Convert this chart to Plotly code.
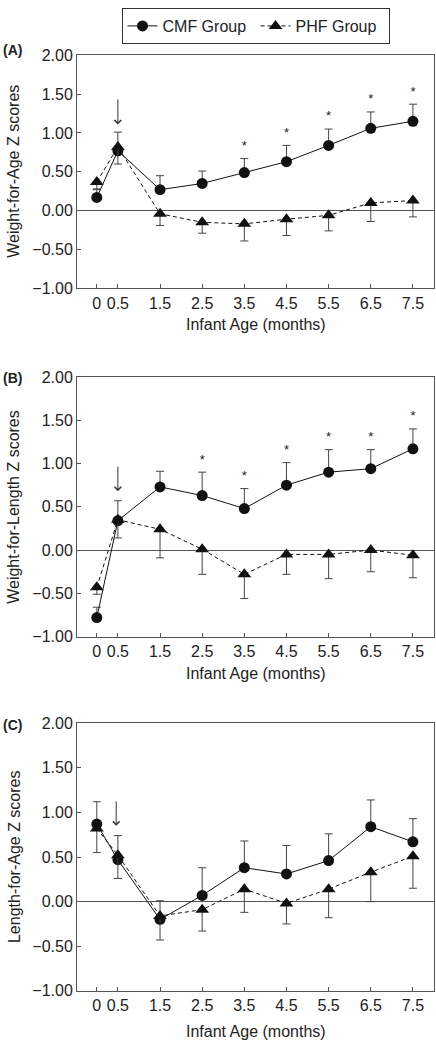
import plotly.graph_objects as go

ages = [0, 0.5, 1.5, 2.5, 3.5, 4.5, 5.5, 6.5, 7.5]
age_labels = ["0", "0.5", "1.5", "2.5", "3.5", "4.5", "5.5", "6.5", "7.5"]

# Panel A: Weight-for-Age
wfa_cmf = [0.17, 0.77, 0.27, 0.35, 0.49, 0.63, 0.84, 1.06, 1.15]
wfa_cmf_se = [0.11, 0.24, 0.18, 0.16, 0.18, 0.21, 0.21, 0.21, 0.22]
wfa_phf = [0.37, 0.82, -0.04, -0.15, -0.17, -0.11, -0.06, 0.10, 0.13]
wfa_phf_se = [0.10, 0.22, 0.15, 0.14, 0.22, 0.21, 0.20, 0.24, 0.21]
wfa_sig = [False, False, False, False, True, True, True, True, True]

# Panel B: Weight-for-Length
wfl_cmf = [-0.78, 0.34, 0.73, 0.63, 0.48, 0.75, 0.90, 0.94, 1.17]
wfl_cmf_se = [0.12, 0.23, 0.18, 0.27, 0.23, 0.26, 0.26, 0.22, 0.23]
wfl_phf = [-0.43, 0.35, 0.24, 0.01, -0.28, -0.05, -0.05, 0.00, -0.06]
wfl_phf_se = [0.08, 0.21, 0.33, 0.29, 0.28, 0.23, 0.28, 0.25, 0.26]
wfl_sig = [False, False, False, True, True, True, True, True, True]

# Panel C: Length-for-Age
lfa_cmf = [0.87, 0.47, -0.20, 0.07, 0.38, 0.31, 0.46, 0.84, 0.67]
lfa_cmf_se = [0.25, 0.27, 0.21, 0.31, 0.30, 0.32, 0.30, 0.30, 0.26]
lfa_phf = [0.82, 0.52, -0.16, -0.09, 0.14, -0.02, 0.14, 0.33, 0.51]
lfa_phf_se = [0.27, 0.26, 0.27, 0.24, 0.26, 0.23, 0.32, 0.33, 0.36]
lfa_sig = [False] * 9

# arrows marking the intervention start (x, top, tip)
arrow_x = [0.5, 0.5, 0.46]
arrow_top = [1.45, 0.98, 1.14]
arrow_tip = [1.11, 0.68, 0.85]

panel_letters = ["(A)", "(B)", "(C)"]
y_titles = ["Weight-for-Age Z scores", "Weight-for-Length Z scores", "Length-for-Age Z scores"]
x_title = "Infant Age (months)"
y_ticks = [-1.0, -0.5, 0.0, 0.5, 1.0, 1.5, 2.0]

panels = [
    (wfa_cmf, wfa_cmf_se, wfa_phf, wfa_phf_se, wfa_sig),
    (wfl_cmf, wfl_cmf_se, wfl_phf, wfl_phf_se, wfl_sig),
    (lfa_cmf, lfa_cmf_se, lfa_phf, lfa_phf_se, lfa_sig),
]

H = 1050.0
# pixel extents of plot areas (top, bottom)
px_dom = [(48, 285), (375, 639), (727, 999)]
letter_y = [43, 376, 729]
xtitle_y = [322, 676, 1040]
STAR_PX = 12  # gap between error cap and asterisk (pixels)

AXC = "#555555"
TXT = "#222222"
FONT = "Liberation Sans, Arial, sans-serif"
FS = 16

fig = go.Figure()
annotations = []
layout = {}

for i, (cmf, cmf_se, phf, phf_se, sig) in enumerate(panels):
    n = "" if i == 0 else str(i + 1)
    xa, ya = "x" + n, "y" + n
    top, bot = px_dom[i]
    units_per_px = 3.0 / (bot - top)
    fig.add_trace(go.Scatter(
        x=ages, y=cmf, xaxis=xa, yaxis=ya, mode="lines+markers", name="CMF Group",
        showlegend=(i == 0), legendrank=1,
        line=dict(color="#111111", width=1),
        marker=dict(symbol="circle", size=11, color="#111111"),
        error_y=dict(type="data", symmetric=False, array=cmf_se, arrayminus=[0] * len(cmf_se),
                     color="#444444", thickness=1, width=4),
    ))
    fig.add_trace(go.Scatter(
        x=ages, y=phf, xaxis=xa, yaxis=ya, mode="lines+markers", name="PHF Group",
        showlegend=(i == 0), legendrank=2,
        line=dict(color="#111111", width=1, dash="4px,3px"),
        marker=dict(symbol="triangle-up", size=12, color="#111111"),
        error_y=dict(type="data", symmetric=False, array=[0] * len(phf_se), arrayminus=phf_se,
                     color="#444444", thickness=1, width=4),
    ))
    sx = [a for a, s in zip(ages, sig) if s]
    sy = [c + e + STAR_PX * units_per_px for c, e, s in zip(cmf, cmf_se, sig) if s]
    if sx:
        fig.add_trace(go.Scatter(
            x=sx, y=sy, xaxis=xa, yaxis=ya, mode="text", text=["*"] * len(sx),
            textposition="middle center", showlegend=False, hoverinfo="skip",
            textfont=dict(size=13, color=TXT, family=FONT),
        ))

    layout["xaxis" + n] = dict(
        domain=[0, 1], anchor=ya, range=[-0.47, 8.0],
        tickvals=ages, ticktext=age_labels, ticks="inside", ticklen=4, tickcolor=AXC,
        showline=True, linecolor=AXC, linewidth=1, mirror=True, showgrid=False,
        zeroline=False, tickfont=dict(size=FS, color=TXT, family=FONT),
    )
    layout["yaxis" + n] = dict(
        domain=[1 - bot / H, 1 - top / H], anchor=xa, range=[-1.0, 2.0],
        tickvals=y_ticks, tickformat=".2f", ticks="inside", ticklen=4, tickcolor=AXC,
        showline=True, linecolor=AXC, linewidth=1, mirror=True, showgrid=False,
        zeroline=True, zerolinecolor=AXC, zerolinewidth=1,
        tickfont=dict(size=FS, color=TXT, family=FONT),
    )
    # arrow
    annotations.append(dict(
        x=arrow_x[i], y=arrow_tip[i], ax=arrow_x[i], ay=arrow_top[i],
        xref=xa, yref=ya, axref=xa, ayref=ya, text="", showarrow=True,
        arrowhead=4, arrowsize=1.3, arrowwidth=1, arrowcolor="#333333",
    ))
    # panel letter
    annotations.append(dict(
        x=-76 / 357, y=1 - letter_y[i] / H, xref="paper", yref="paper",
        xanchor="left", yanchor="middle", text="<b>" + panel_letters[i] + "</b>",
        showarrow=False, font=dict(size=14, color=TXT, family=FONT),
    ))
    # y title
    annotations.append(dict(
        x=(14 - 77) / 357, y=1 - (top + bot) / 2 / H, xref="paper", yref="paper",
        xanchor="center", yanchor="middle", textangle=-90, text=y_titles[i],
        showarrow=False, font=dict(size=FS, color=TXT, family=FONT),
    ))
    # x title
    annotations.append(dict(
        x=0.5, y=1 - xtitle_y[i] / H, xref="paper", yref="paper",
        xanchor="center", yanchor="middle", text=x_title,
        showarrow=False, font=dict(size=FS, color=TXT, family=FONT),
    ))

fig.update_layout(
    width=436, height=1050,
    margin=dict(l=77, r=2, t=0, b=0),
    paper_bgcolor="white", plot_bgcolor="white",
    font=dict(family=FONT, color=TXT, size=FS),
    showlegend=True,
    legend=dict(orientation="h", x=0.5, xanchor="center", y=1.0, yanchor="top",
                bordercolor="#333333", borderwidth=1, bgcolor="white",
                font=dict(size=FS, color=TXT, family=FONT), itemwidth=30,
                entrywidth=88, entrywidthmode="pixels"),
    annotations=annotations,
    **layout,
)

fig.write_html(
    "out.html",
    config={"displayModeBar": False},
    post_script="document.body.style.margin='0';document.body.style.overflow='hidden';",
)
